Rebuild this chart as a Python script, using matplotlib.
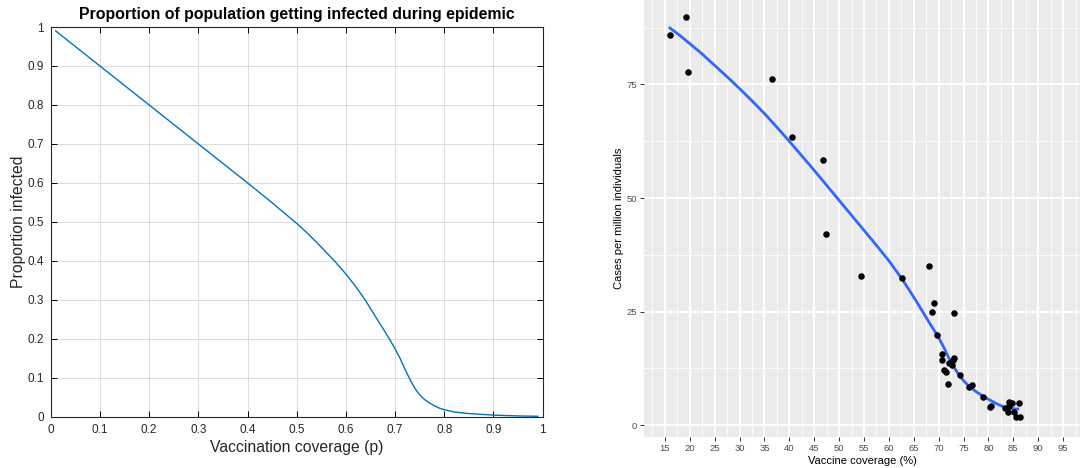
import numpy as np
import matplotlib
matplotlib.use("Agg")
import matplotlib.pyplot as plt

plt.rcParams['font.family'] = ['Liberation Sans', 'DejaVu Sans']

# final epidemic size vs vaccination coverage (model output)
coverage_p = [0.01, 0.1, 0.2, 0.3, 0.4, 0.45, 0.5, 0.52, 0.54, 0.56, 0.58,
              0.60, 0.62, 0.64, 0.66, 0.68, 0.69, 0.70, 0.71, 0.72, 0.73,
              0.74, 0.75, 0.76, 0.77, 0.78, 0.79, 0.80, 0.82, 0.85, 0.90,
              0.95, 0.99]
prop_infected = [0.99, 0.90, 0.80, 0.70, 0.60, 0.549, 0.496, 0.473, 0.448,
                 0.422, 0.395, 0.366, 0.334, 0.298, 0.257, 0.217, 0.196, 0.174,
                 0.150, 0.122, 0.096, 0.073, 0.056, 0.044, 0.035, 0.028, 0.022,
                 0.018, 0.012, 0.008, 0.004, 0.002, 0.001]

# observed country data: coverage (%) vs cases per million
vacc_cov = [16.0, 19.15, 19.6, 36.6, 40.6, 46.8, 47.35, 54.3, 62.6, 68.0,
            69.15, 68.75, 73.1, 69.75, 70.7, 70.6, 71.0, 71.4, 71.9, 72.1,
            72.7, 72.9, 73.1, 74.2, 76.0, 76.8, 78.9, 80.3, 80.6, 83.4,
            84.1, 84.8, 84.15, 83.95, 85.15, 86.15, 85.6, 86.3]
cases_pm = [86.0, 89.75, 77.8, 76.3, 63.4, 58.3, 42.0, 32.8, 32.4, 35.15,
            26.9, 25.0, 24.7, 19.9, 15.6, 14.3, 12.1, 11.7, 9.0, 13.7,
            13.2, 14.3, 14.9, 11.15, 8.3, 8.95, 6.2, 4.0, 4.2, 3.8,
            5.2, 4.97, 4.25, 2.86, 2.9, 4.9, 1.7, 1.83]

# smoothed trend through the observations
smooth_x = [16.0, 18.0, 20.0, 22.5, 25.0, 27.5, 30.0, 32.5, 35.0, 37.5,
            40.0, 42.5, 45.0, 47.5, 50.0, 52.5, 55.0, 57.5, 60.0, 62.5,
            64.0, 65.5, 67.0, 68.5, 69.9, 71.0, 72.0, 73.0, 74.0, 75.0,
            76.25, 77.5, 78.75, 80.0, 81.5, 82.9, 84.3, 85.9]
smooth_y = [87.45, 85.8, 84.0, 81.7, 79.2, 76.7, 74.1, 71.4, 68.6, 65.6,
            62.5, 59.3, 56.1, 52.8, 49.5, 46.2, 42.9, 39.6, 36.2, 32.4,
            29.9, 27.3, 24.6, 21.9, 19.5, 17.2, 14.9, 12.9, 11.2, 9.8,
            8.4, 7.4, 6.5, 5.7, 4.8, 4.1, 3.7, 3.55]

fig = plt.figure(figsize=(10.8, 4.68), dpi=100)

# ---- left: MATLAB-style model plot ----
ax1 = fig.add_axes([50.7 / 1080, 1 - 416.7 / 468, 492 / 1080, 389.7 / 468])
ax1.plot(coverage_p, prop_infected, color='#0072BD', lw=1.0)
ax1.set_xlim(0, 1)
ax1.set_ylim(0, 1)
ticks = np.round(np.arange(0, 1.01, 0.1), 1)
labels = ['0'] + [f'{t:g}' for t in ticks[1:-1]] + ['1']
ax1.set_xticks(ticks)
ax1.set_xticklabels(labels)
ax1.set_yticks(ticks)
ax1.set_yticklabels(labels)
ax1.grid(True, color='#dcdcdc', lw=0.7)
ax1.set_axisbelow(True)
ax1.tick_params(direction='in', length=4, width=0.7, top=True, right=True,
                labelsize=8.5, labelcolor='#262626', pad=5)
for s in ax1.spines.values():
    s.set_linewidth(0.8)
    s.set_color('#262626')
ax1.set_title('Proportion of population getting infected during epidemic',
              fontsize=11.4, fontweight='bold', pad=6)
ax1.set_xlabel('Vaccination coverage (p)', fontsize=11.3, color='#262626', labelpad=3)
ax1.set_ylabel('Proportion infected', fontsize=11.3, color='#262626', labelpad=1)

# ---- right: ggplot-style scatter with smooth ----
ax2 = fig.add_axes([644 / 1080, 1 - 437 / 468, 436 / 1080, 437 / 468])
ax2.set_facecolor('#EBEBEB')
ax2.set_xlim(10.8, 98.4)
ax2.set_ylim(-2.6, 93.6)
ax2.set_xticks(np.arange(15, 96, 5))
ax2.set_yticks([0, 25, 50, 75])
ax2.set_xticks(np.arange(12.5, 98, 5), minor=True)
ax2.set_yticks([12.5, 37.5, 62.5, 87.5], minor=True)
ax2.grid(True, which='major', color='white', lw=1.3)
ax2.grid(True, which='minor', color='white', lw=0.6)
ax2.set_axisbelow(True)
for s in ax2.spines.values():
    s.set_visible(False)
ax2.tick_params(which='major', direction='out', length=3, width=0.7,
                color='#333333', labelsize=6.8, labelcolor='#4D4D4D', pad=2)
ax2.tick_params(which='minor', length=0)
ax2.scatter(vacc_cov, cases_pm, s=22, color='black', zorder=3, linewidths=0)
ax2.plot(smooth_x, smooth_y, color='#3366FF', lw=2.0, zorder=2)
ax2.set_xlabel('Vaccine coverage (%)', fontsize=8, labelpad=2)
ax2.set_ylabel('Cases per million individuals', fontsize=8, labelpad=2)

fig.savefig('out.png', dpi=100)
